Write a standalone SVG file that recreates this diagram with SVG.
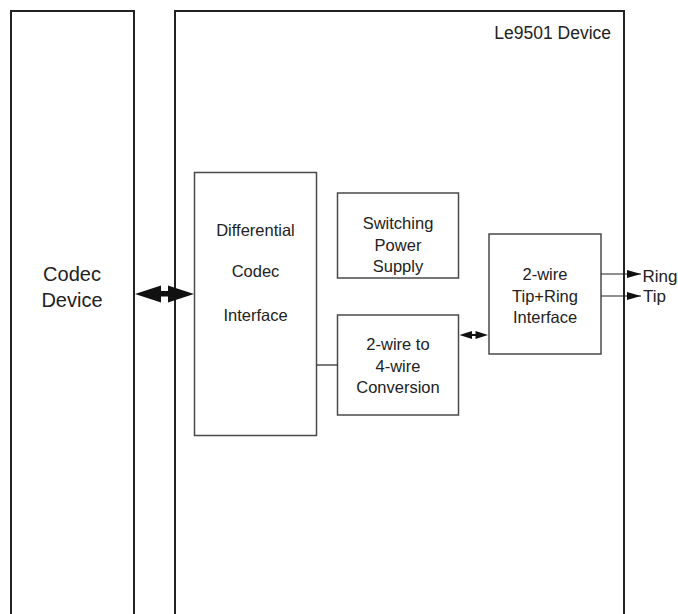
<svg xmlns="http://www.w3.org/2000/svg" width="678" height="614" viewBox="0 0 678 614">
  <style>
    .outer { fill: none; stroke: #222; stroke-width: 2; }
    .block { fill: #fff; stroke: #4a4a4a; stroke-width: 1.5; }
    .wire { fill: none; stroke: #222; stroke-width: 1.2; }
    text { font-family: "Liberation Sans", Arial, sans-serif; fill: #222; }
    .lbl { font-size: 16.5px; text-anchor: middle; }
    .big { font-size: 20px; text-anchor: middle; }
    .side { font-size: 17px; }
    .title { font-size: 17.5px; text-anchor: end; }
    .head { fill: #111; stroke: none; }
  </style>
  <defs>
    <marker id="tip" viewBox="0 0 14 8" refX="14" refY="4" markerWidth="14" markerHeight="8" markerUnits="userSpaceOnUse" orient="auto">
      <path d="M0,0 L14,4 L0,8 Z" fill="#111"/>
    </marker>
  </defs>

  <!-- Codec device (open at the bottom) -->
  <g id="codec-device">
    <path class="outer" d="M11,620 V11 H134 V620"/>
    <text class="big" x="72" y="281">Codec</text>
    <text class="big" x="72" y="307">Device</text>
  </g>

  <!-- Le9501 device enclosure (open at the bottom) -->
  <g id="le9501-device">
    <path class="outer" d="M175,620 V11 H624 V620"/>
    <text class="title" x="611" y="39">Le9501 Device</text>
  </g>

  <g id="differential-codec-interface">
    <rect class="block" x="194.5" y="172.5" width="122" height="263"/>
    <text class="lbl" x="255.5" y="236">Differential</text>
    <text class="lbl" x="255.5" y="277">Codec</text>
    <text class="lbl" x="255.5" y="321">Interface</text>
  </g>

  <g id="switching-power-supply">
    <rect class="block" x="337.5" y="193" width="121" height="85"/>
    <text class="lbl" x="398" y="228.5">Switching</text>
    <text class="lbl" x="398" y="250.5">Power</text>
    <text class="lbl" x="398" y="272">Supply</text>
  </g>

  <g id="two-to-four-wire">
    <rect class="block" x="337.5" y="315" width="121" height="100"/>
    <text class="lbl" x="398" y="350">2-wire to</text>
    <text class="lbl" x="398" y="371.5">4-wire</text>
    <text class="lbl" x="398" y="392.5">Conversion</text>
  </g>

  <g id="tip-ring-interface">
    <rect class="block" x="489" y="234" width="112" height="120"/>
    <text class="lbl" x="545" y="280">2-wire</text>
    <text class="lbl" x="545" y="302">Tip+Ring</text>
    <text class="lbl" x="545" y="322.5">Interface</text>
  </g>

  <g id="connectors">
    <!-- codec bus: heavy double-headed arrow -->
    <rect class="head" x="158" y="291" width="13" height="5.5"/>
    <path class="head" d="M135,294 L161,285.5 L161,302.5 Z"/>
    <path class="head" d="M194,294 L168,285.5 L168,302.5 Z"/>

    <!-- differential interface to hybrid -->
    <line class="wire" x1="317" y1="365" x2="337.5" y2="365"/>

    <!-- hybrid to line interface: small double-headed arrow -->
    <rect class="head" x="469" y="334" width="8" height="2"/>
    <path class="head" d="M459.5,335 L472,331 L472,339 Z"/>
    <path class="head" d="M488,335 L475.5,331 L475.5,339 Z"/>

    <!-- line outputs -->
    <line class="wire" x1="601" y1="274" x2="641" y2="274" marker-end="url(#tip)"/>
    <line class="wire" x1="601" y1="296" x2="641" y2="296" marker-end="url(#tip)"/>
    <text class="side" x="642.5" y="281.5">Ring</text>
    <text class="side" x="643" y="301.5">Tip</text>
  </g>
</svg>
